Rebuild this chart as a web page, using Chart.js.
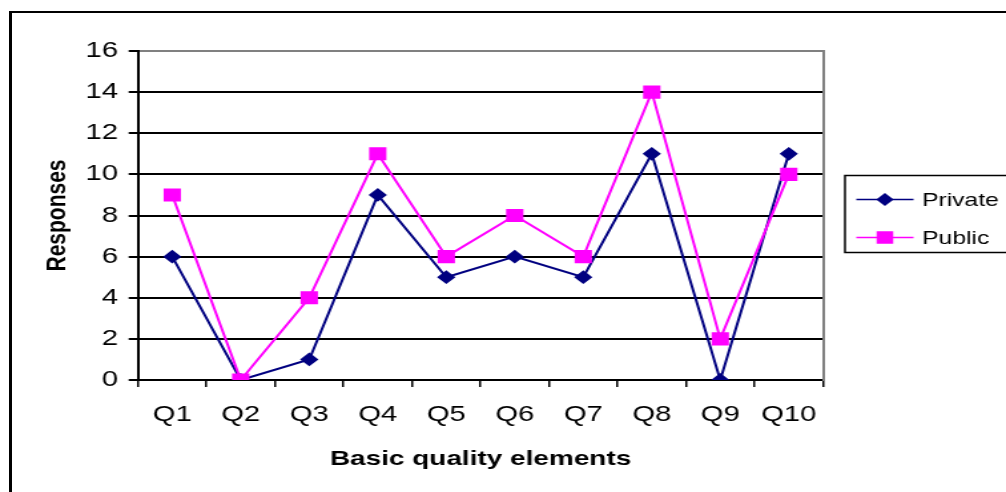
<!DOCTYPE html>
<html>
<head>
<meta charset="utf-8">
<title>Responses by basic quality element</title>
<script src="https://cdn.jsdelivr.net/npm/chart.js@4/dist/chart.umd.min.js"></script>
<style>
  html, body { margin: 0; padding: 0; background: #fff; overflow: hidden; }
  #frame {
    position: absolute; left: 9px; top: 11px; width: 1200px; height: 700px;
    border-left: 3px solid #000; border-top: 2px solid #000; pointer-events: none;
  }
  /* the drawing surface is rendered narrower and widened on screen */
  #chart { position: absolute; left: 0; top: 0; width: 1006px !important; height: 492px !important; }
</style>
</head>
<body>
<div id="frame"></div>
<canvas id="chart" width="756" height="492"></canvas>
<script>
// Categories and series
const categories = ['Q1', 'Q2', 'Q3', 'Q4', 'Q5', 'Q6', 'Q7', 'Q8', 'Q9', 'Q10'];
const privateResponses = [6, 0, 1, 9, 5, 6, 5, 11, 0, 11];
const publicResponses  = [9, 0, 4, 11, 6, 8, 6, 14, 2, 10];
const seriesNames = ['Private', 'Public'];
const yTicks = [0, 2, 4, 6, 8, 10, 12, 14, 16];

const FONT = "'Liberation Sans', Arial, sans-serif";
const NAVY = '#000080';
const MAGENTA = '#FF00FF';

// Boxed legend on the right: line segment + marker + label per series
const boxLegend = {
  id: 'boxLegend',
  afterDraw(chart) {
    const ctx = chart.ctx;
    const area = chart.chartArea;
    const boxLeft = area.right + 16.5;
    const boxTop = 175.5;
    const boxBottom = 252.5;
    ctx.save();
    ctx.strokeStyle = '#000';
    ctx.lineWidth = 1.5;
    ctx.strokeRect(boxLeft, boxTop, chart.width + 20 - boxLeft, boxBottom - boxTop);
    const rows = [199.5, 237.5];
    chart.data.datasets.forEach((ds, i) => {
      const y = rows[i];
      const x0 = boxLeft + 8.5, x1 = boxLeft + 51.5, xm = (x0 + x1) / 2;
      ctx.strokeStyle = ds.borderColor;
      ctx.lineWidth = 1.5;
      ctx.beginPath();
      ctx.moveTo(x0, y);
      ctx.lineTo(x1, y);
      ctx.stroke();
      ctx.fillStyle = ds.pointBackgroundColor;
      ctx.strokeStyle = ds.pointBorderColor;
      Chart.helpers.drawPoint(ctx, {
        pointStyle: ds.pointStyle, radius: ds.pointRadius, rotation: 0, borderWidth: 1
      }, xm, y);
      ctx.fillStyle = '#000';
      ctx.font = '18.5px ' + FONT;
      ctx.textBaseline = 'middle';
      ctx.textAlign = 'left';
      ctx.fillText(ds.label, boxLeft + 58, y + 1.5);
    });
    ctx.restore();
  }
};

new Chart(document.getElementById('chart'), {
  type: 'line',
  data: {
    labels: categories,
    datasets: [
      {
        label: seriesNames[0],
        data: privateResponses,
        borderColor: NAVY,
        backgroundColor: NAVY,
        pointBackgroundColor: NAVY,
        pointBorderColor: NAVY,
        pointStyle: 'rectRot',
        pointRadius: 5.5,
        borderWidth: 2,
        tension: 0,
        order: 2
      },
      {
        label: seriesNames[1],
        data: publicResponses,
        borderColor: MAGENTA,
        backgroundColor: MAGENTA,
        pointBackgroundColor: MAGENTA,
        pointBorderColor: MAGENTA,
        pointStyle: 'rect',
        pointRadius: 7.8,
        borderWidth: 2,
        tension: 0,
        order: 1
      }
    ]
  },
  options: {
    responsive: false,
    animation: false,
    devicePixelRatio: 1,
    layout: { padding: { left: 31, right: 137.5, top: 51, bottom: 20 } },
    plugins: {
      legend: { display: false },
      tooltip: { enabled: false }
    },
    scales: {
      x: {
        type: 'category',
        offset: true,
        grid: {
          offset: true,
          drawOnChartArea: false,
          drawTicks: true,
          tickLength: 7,
          color: '#000',
          lineWidth: 1.5
        },
        border: { color: '#000', width: 2 },
        ticks: {
          color: '#000',
          font: { family: FONT, size: 22 },
          padding: 15,
          maxRotation: 0,
          autoSkip: false
        },
        title: {
          display: true,
          text: 'Basic quality elements',
          color: '#000',
          font: { family: FONT, size: 21, weight: 'bold' },
          padding: { top: 0, bottom: 0 }
        },
        afterFit(scale) { scale.height = 92; }
      },
      y: {
        min: 0,
        max: 16,
        afterBuildTicks(scale) { scale.ticks = yTicks.map(v => ({ value: v })); },
        grid: {
          color: (c) => (c.tick && c.tick.value === 16 ? '#808080' : '#000'),
          tickColor: '#000',
          lineWidth: 2,
          tickLength: 7
        },
        border: { color: '#000', width: 2 },
        ticks: {
          color: '#000',
          font: { family: FONT, size: 22 },
          padding: 8
        },
        title: {
          display: true,
          text: 'Responses',
          color: '#000',
          font: { family: FONT, size: 21, weight: 'bold' },
          padding: { top: 0, bottom: 0 }
        },
        afterFit(scale) { scale.width = 72.7; }
      },
      // right edge of the plot frame
      yRight: {
        position: 'right',
        display: true,
        grid: { display: false, drawTicks: false },
        ticks: { display: false },
        border: { color: '#808080', width: 2 },
        afterFit(scale) { scale.width = 0; }
      }
    }
  },
  plugins: [boxLegend]
});
</script>
</body>
</html>
